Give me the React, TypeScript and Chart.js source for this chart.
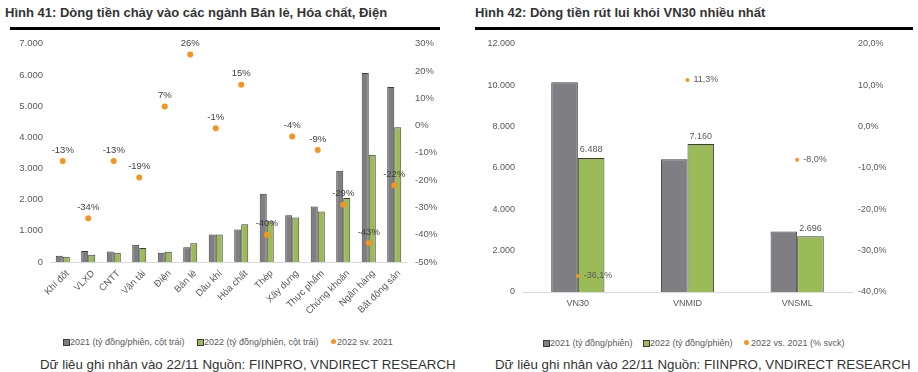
import React, { useEffect, useRef } from 'react';
import { Chart, registerables } from 'chart.js';
Chart.register(...registerables);

const FONT = '"Liberation Sans", Arial, sans-serif';

// Hình 41
const sectors = ['Khí đốt', 'VLXD', 'CNTT', 'Vận tải', 'Điện', 'Bán lẻ', 'Dầu khí', 'Hóa chất', 'Thép', 'Xây dựng', 'Thực phẩm', 'Chứng khoán', 'Ngân hàng', 'Bất động sản'];
const sector2021 = [200, 350, 340, 555, 300, 470, 880, 1040, 2190, 1500, 1780, 2930, 6060, 5610];
const sector2022 = [170, 235, 300, 445, 330, 600, 880, 1210, 1310, 1430, 1620, 2050, 3440, 4320];
const sectorChange = [-13, -34, -13, -19, 7, 26, -1, 15, -40, -4, -9, -29, -43, -22];

// Hình 42
const indexes = ['VN30', 'VNMID', 'VNSML'];
const index2021 = [10150, 6420, 2930];
const index2022 = [6488, 7160, 2696];
const indexChange = [-36.1, 11.3, -8.0];

const GRAY = '#7F7F83';
const GREEN = '#9BBB59';
const ORANGE = '#F7941D';
const EDGE = '#3C3C3C';
const TICK = '#595959';

const fmt = (n: number) => Math.round(n).toString().replace(/\B(?=(\d{3})+(?!\d))/g, '.');
const fmtPct1 = (n: number) => n.toFixed(1).replace('.', ',') + '%';

function LeftChart() {
  const ref = useRef<HTMLCanvasElement>(null);
  useEffect(() => {
    const labelPlugin = {
      id: 'leftLabels',
      afterDatasetsDraw(chart: any) {
        const ctx = chart.ctx;
        const meta = chart.getDatasetMeta(2);
        ctx.save();
        ctx.font = `9.5px ${FONT}`;
        ctx.fillStyle = '#404040';
        ctx.textAlign = 'center';
        ctx.textBaseline = 'middle';
        meta.data.forEach((el: any, i: number) => {
          ctx.fillText(sectorChange[i] + '%', el.x, el.y - 11);
        });
        ctx.restore();
      },
    };
    const tickFont = { family: FONT, size: 9.5 };
    const chart = new Chart(ref.current!, {
      type: 'bar',
      data: {
        labels: sectors,
        datasets: [
          { label: '2021 (tỷ đồng/phiên, cột trái)', data: sector2021, backgroundColor: GRAY, borderColor: EDGE, borderWidth: 1, yAxisID: 'y', order: 1 },
          { label: '2022 (tỷ đồng/phiên, cột trái)', data: sector2022, backgroundColor: GREEN, borderColor: EDGE, borderWidth: 1, yAxisID: 'y', order: 1 },
          { type: 'line', label: '2022 sv. 2021', data: sectorChange, yAxisID: 'y1', showLine: false, pointRadius: 3, pointBackgroundColor: ORANGE, pointBorderWidth: 0, order: 0 } as any,
        ],
      },
      options: {
        responsive: false,
        animation: false,
        devicePixelRatio: 1,
        layout: { padding: { top: 12, left: 0, right: 0, bottom: 0 } },
        plugins: { legend: { display: false }, tooltip: { enabled: false } },
        datasets: { bar: { categoryPercentage: 0.55, barPercentage: 1 } },
        scales: {
          x: {
            grid: { display: false, drawTicks: false },
            border: { display: true, color: '#D9D9D9' },
            ticks: { minRotation: 45, maxRotation: 45, autoSkip: false, font: tickFont, color: TICK, padding: 6, labelOffset: 5 },
            afterFit: (s: any) => { s.height = 68; },
          },
          y: {
            position: 'left', min: 0, max: 7000,
            grid: { display: false, drawTicks: false },
            border: { display: false },
            ticks: { stepSize: 1000, callback: (v: any) => fmt(v), font: tickFont, color: TICK, padding: 7 },
            afterFit: (s: any) => { s.width = 50; },
          },
          y1: {
            position: 'right', min: -50, max: 30,
            grid: { display: false, drawTicks: false },
            border: { display: false },
            ticks: { stepSize: 10, callback: (v: any) => v + '%', font: tickFont, color: TICK, padding: 8 },
            afterFit: (s: any) => { s.width = 53; },
          },
        },
      } as any,
      plugins: [labelPlugin],
    });
    return () => chart.destroy();
  }, []);
  return <canvas ref={ref} width={460} height={300} style={{ position: 'absolute', left: 0, top: 30, width: 460, height: 300 }} />;
}

function RightChart() {
  const ref = useRef<HTMLCanvasElement>(null);
  useEffect(() => {
    const labelPlugin = {
      id: 'rightLabels',
      afterDatasetsDraw(chart: any) {
        const ctx = chart.ctx;
        ctx.save();
        ctx.font = `9px ${FONT}`;
        ctx.fillStyle = TICK;
        ctx.textBaseline = 'middle';
        ctx.textAlign = 'center';
        chart.getDatasetMeta(1).data.forEach((el: any, i: number) => {
          ctx.fillText(fmt(index2022[i]), el.x, el.y - 8);
        });
        ctx.textAlign = 'left';
        chart.getDatasetMeta(2).data.forEach((el: any, i: number) => {
          ctx.fillText(fmtPct1(indexChange[i]), el.x + 6, el.y);
        });
        ctx.restore();
      },
    };
    const tickFont = { family: FONT, size: 9 };
    const chart = new Chart(ref.current!, {
      type: 'bar',
      data: {
        labels: indexes,
        datasets: [
          { label: '2021 (tỷ đồng/phiên)', data: index2021, backgroundColor: GRAY, borderColor: EDGE, borderWidth: 1, yAxisID: 'y', order: 1 },
          { label: '2022 (tỷ đồng/phiên)', data: index2022, backgroundColor: GREEN, borderColor: EDGE, borderWidth: 1, yAxisID: 'y', order: 1 },
          { type: 'line', label: '2022 vs. 2021 (% svck)', data: indexChange, yAxisID: 'y1', showLine: false, pointRadius: 2, pointBackgroundColor: ORANGE, pointBorderWidth: 0, order: 0 } as any,
        ],
      },
      options: {
        responsive: false,
        animation: false,
        devicePixelRatio: 1,
        layout: { padding: { top: 14, left: 0, right: 0, bottom: 0 } },
        plugins: { legend: { display: false }, tooltip: { enabled: false } },
        datasets: { bar: { categoryPercentage: 0.485, barPercentage: 1 } },
        scales: {
          x: {
            grid: { display: false, drawTicks: false },
            border: { display: true, color: '#D9D9D9' },
            ticks: { maxRotation: 0, autoSkip: false, font: tickFont, color: TICK, padding: 6 },
            afterFit: (s: any) => { s.height = 38; },
          },
          y: {
            position: 'left', min: 0, max: 12000,
            grid: { display: false, drawTicks: false },
            border: { display: false },
            ticks: { stepSize: 2000, callback: (v: any) => fmt(v), font: tickFont, color: TICK, padding: 8 },
            afterFit: (s: any) => { s.width = 63; },
          },
          y1: {
            position: 'right', min: -40, max: 20,
            grid: { display: false, drawTicks: false },
            border: { display: false },
            ticks: { stepSize: 10, callback: (v: any) => fmtPct1(v), font: tickFont, color: TICK, padding: 6 },
            afterFit: (s: any) => { s.width = 66; },
          },
        },
      } as any,
      plugins: [labelPlugin],
    });
    return () => chart.destroy();
  }, []);
  return <canvas ref={ref} width={458} height={300} style={{ position: 'absolute', left: 460, top: 30, width: 458, height: 300 }} />;
}

const legendText: React.CSSProperties = { position: 'absolute', fontFamily: FONT, fontSize: 9, color: TICK, whiteSpace: 'nowrap', lineHeight: '12px' };

function Box({ x, y, color }: { x: number; y: number; color: string }) {
  return <div style={{ position: 'absolute', left: x, top: y, width: 5, height: 5, background: color, border: `1px solid ${EDGE}` }} />;
}
function Dot({ x, y }: { x: number; y: number }) {
  return <div style={{ position: 'absolute', left: x, top: y, width: 5, height: 5, borderRadius: 3, background: ORANGE }} />;
}

export default function App() {
  const titleStyle: React.CSSProperties = { position: 'absolute', top: 4, fontFamily: FONT, fontWeight: 'bold', fontSize: 13, color: '#333', whiteSpace: 'nowrap', lineHeight: '18px' };
  const footStyle: React.CSSProperties = { position: 'absolute', top: 357, fontFamily: FONT, fontSize: 13.3, color: '#333', whiteSpace: 'nowrap', lineHeight: '16px' };
  return (
    <div style={{ position: 'fixed', left: 0, top: 0, width: 918, height: 372, background: '#fff', overflow: 'hidden' }}>
      <div style={{ ...titleStyle, left: 5 }}>Hình 41: Dòng tiền chảy vào các ngành Bán lẻ, Hóa chất, Điện</div>
      <div style={{ position: 'absolute', left: 10, top: 27, width: 430, height: 3, background: '#000' }} />
      <div style={{ ...titleStyle, left: 475 }}>Hình 42: Dòng tiền rút lui khỏi VN30 nhiều nhất</div>
      <div style={{ position: 'absolute', left: 475, top: 27, width: 438, height: 3, background: '#000' }} />

      <LeftChart />
      <RightChart />

      <Box x={63} y={339} color={GRAY} />
      <div style={{ ...legendText, left: 70, top: 336 }}>2021 (tỷ đồng/phiên, cột trái)</div>
      <Box x={197} y={339} color={GREEN} />
      <div style={{ ...legendText, left: 204, top: 336 }}>2022 (tỷ đồng/phiên, cột trái)</div>
      <Dot x={331} y={339} />
      <div style={{ ...legendText, left: 337, top: 336 }}>2022 sv. 2021</div>

      <Box x={543} y={340} color={GRAY} />
      <div style={{ ...legendText, left: 550, top: 337 }}>2021 (tỷ đồng/phiên)</div>
      <Box x={643} y={340} color={GREEN} />
      <div style={{ ...legendText, left: 650, top: 337 }}>2022 (tỷ đồng/phiên)</div>
      <Dot x={744} y={340} />
      <div style={{ ...legendText, left: 751, top: 337 }}>2022 vs. 2021 (% svck)</div>

      <div style={{ ...footStyle, left: 40 }}>Dữ liêu ghi nhân vào 22/11 Nguồn: FIINPRO, VNDIRECT RESEARCH</div>
      <div style={{ ...footStyle, left: 495 }}>Dữ liêu ghi nhân vào 22/11 Nguồn: FIINPRO, VNDIRECT RESEARCH</div>
    </div>
  );
}
